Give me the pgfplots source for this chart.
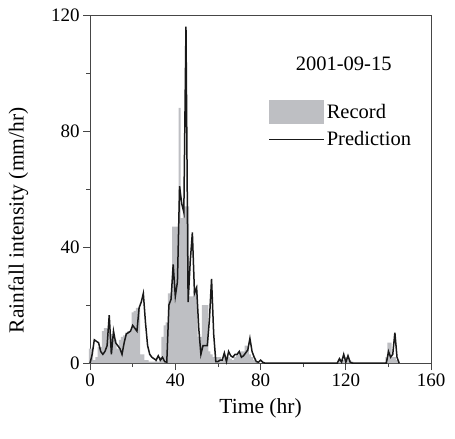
\documentclass[border=0pt]{standalone}
\usepackage{fontspec}
\setmainfont{Liberation Serif}
\usepackage{pgfplots}
\usepackage{pgfplotstable}
\pgfplotsset{compat=1.18}
\definecolor{recgray}{RGB}{190,191,195}
\definecolor{axgray}{RGB}{70,70,70}

\pgfplotstableread{
t v
0 5
1 5
2 1
3 2
4 5.5
5 5.5
6 11
7 12
8 12
9 10
10 10
11 8
12 8
13 5
14 8
15 9
16 9.5
17 10.5
18 11
19 11
20 17.5
21 18
22 19
23 19
24 3
25 3
26 1
27 1
28 0.5
29 0.5
30 0.5
31 1
32 0.5
33 2
34 9
35 13
36 14
37 24
38 24
39 47
40 47
41 47
42 88
43 50
44 54
45 54
46 54
47 23
48 23
49 25
50 25
51 9
52 9
53 20
54 20
55 20
56 4
57 3
58 2
59 2
60 2
61 2
62 1
63 2
64 2
65 2
66 1.5
67 1
68 2
69 3
70 3
71 4
72 4
73 6
74 6
75 3
76 2
77 1
78 0.5
79 0.3
117 1
118 1.5
119 1
120 2
121 1.5
122 1
123 0.5
139 2
140 7
141 7
142 2
143 2
144 1
}\record

\pgfplotstableread{
t v
0 0
1 3
2 8
3 7.5
4 7
5 4
6 3
7 4
8 6
9 16.5
10 3
11 11
12 7
13 6
14 5
15 3
16 7
17 10
18 10.5
19 11
20 13
21 12
22 11
23 19
24 21
25 24
26 14
27 6
28 3
29 2
30 1.5
31 1
32 2.5
33 1
34 2
35 0.5
36 0.3
37 20
38 22
39 34
40 23
41 28
42 61
43 55
44 52
45 116
46 21
47 35
48 45
49 24
50 26
51 12
52 3
53 6
54 6
55 6
56 15
57 29
58 10
59 0.5
60 0.5
61 1
62 1
63 3.5
64 0.5
65 4
66 2.5
67 2
68 3
69 3
70 4
71 2
72 2.5
73 3.5
74 4.5
75 8.5
76 4
77 2
78 0.5
79 0.3
80 1
81 0.3
82 0
116 0
117 1.5
118 0.3
119 3
120 0.3
121 2.5
122 0.3
123 0
139 0
140 4
141 2
142 3
143 10.5
144 2
145 0
}\prediction

\begin{document}
\begin{tikzpicture}
\begin{axis}[
    scale only axis,
    width=341bp, height=348bp,
    xmin=0, xmax=160, ymin=0, ymax=120,
    xtick={0,40,...,160}, ytick={0,40,80,120},
    minor xtick={20,60,100,140}, minor ytick={20,60,100},
    tick pos=left, tick align=outside,
    major tick length=7bp, minor tick length=4bp,
    every tick/.style={axgray, line width=0.8bp},
    axis line style={axgray, line width=0.8bp},
    font=\fontsize{20.5bp}{24bp}\selectfont,
    tick label style={font=\fontsize{19bp}{22bp}\selectfont},
    label style={font=\fontsize{21.5bp}{25bp}\selectfont},
    /pgf/number format/assume math mode=true,
    xlabel={Time (hr)}, ylabel={Rainfall intensity (mm/hr)},
    xlabel shift=5bp,
    ylabel style={at={(rel axis cs:-0.21,0.41)}, anchor=center, rotate=0},
    legend style={at={(0.522,0.757)}, anchor=north west, draw=none, fill=none,
        row sep=6bp, inner sep=0pt, font=\fontsize{20.5bp}{24bp}\selectfont},
    legend cell align=left,
    clip=false,
]
\addplot[ybar, bar width=1, bar shift=0pt, fill=recgray, draw=none,
    legend image code/.code={\fill[recgray] (0bp,-12bp) rectangle (55bp,12bp);}]
    table[x=t, y=v] {\record};
\addlegendentry{Record}
\addplot[black!90, line width=1.5bp, mark=none,
    legend image code/.code={\draw[black!90, line width=1.5bp] (0bp,0bp) -- (55bp,0bp);}]
    table[x=t, y=v] {\prediction};
\addlegendentry{Prediction}
\node at (axis cs:119,103) {2001-09-15};
\path (rel axis cs:-0.264,-0.218) rectangle (rel axis cs:1.070,1.043);
\end{axis}
\end{tikzpicture}
\end{document}
